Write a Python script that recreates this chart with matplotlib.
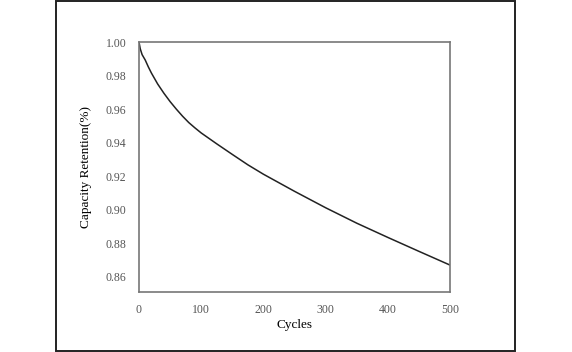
import matplotlib
matplotlib.use("Agg")
import matplotlib.pyplot as plt
from matplotlib.patches import Rectangle

# capacity retention vs cycle number
cycles = [0, 2, 5, 10, 15, 20, 30, 40, 50, 60, 70, 80, 90, 100, 125, 150,
          175, 200, 250, 300, 350, 400, 450, 500]
retention = [1.000, 0.996, 0.9925, 0.9893, 0.9852, 0.9815, 0.9750, 0.9695,
             0.9645, 0.9600, 0.9558, 0.9520, 0.9488, 0.9458, 0.9393, 0.9330,
             0.9268, 0.9212, 0.9110, 0.9012, 0.8920, 0.8835, 0.8752, 0.8670]

x_ticks = [0, 100, 200, 300, 400, 500]
y_ticks = [0.86, 0.88, 0.90, 0.92, 0.94, 0.96, 0.98, 1.00]

plt.rcParams["font.family"] = ["Liberation Serif", "DejaVu Serif"]

fig = plt.figure(figsize=(5.72, 3.52), dpi=100)
ax = fig.add_axes([0.243, 0.1705, 0.544, 0.710])

ax.plot(cycles, retention, color="#222222", lw=1.1)

ax.set_xlim(0, 500)
ax.set_ylim(0.851, 1.0)
ax.set_xticks(x_ticks)
ax.set_xticklabels([str(t) for t in x_ticks])
ax.set_yticks(y_ticks)
ax.set_yticklabels([f"{t:.2f}" for t in y_ticks])
ax.tick_params(length=0, labelsize=8.5, labelcolor="#555555", pad=9)

for s in ax.spines.values():
    s.set_color("#777777")
    s.set_linewidth(1.2)

ax.set_xlabel("Cycles", fontsize=9.5, labelpad=2)
ax.set_ylabel("Capacity Retention(%)", fontsize=9.5, labelpad=10)

# outer frame around the figure
fig.patches.append(Rectangle((0.098, 0.003), 0.802, 0.994, transform=fig.transFigure,
                             fill=False, edgecolor="#222222", lw=1.4))

fig.savefig("out.png", dpi=100)
